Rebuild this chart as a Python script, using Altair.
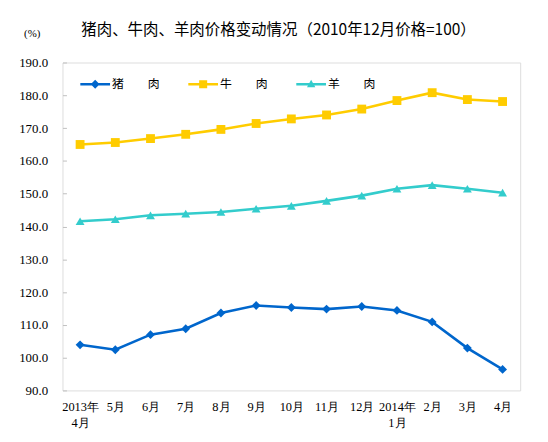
import altair as alt
import pandas as pd

months = ["2013年\n4月", "5月", "6月", "7月", "8月", "9月", "10月", "11月", "12月",
          "2014年\n1月", "2月", "3月", "4月"]
pork = [103.9, 102.4, 107.0, 108.8, 113.6, 115.9, 115.3, 114.8, 115.6, 114.4, 110.9, 102.9, 96.4]
beef = [165.0, 165.6, 166.8, 168.1, 169.6, 171.4, 172.8, 174.0, 175.8, 178.4, 180.8, 178.7, 178.1]
mutton = [141.6, 142.2, 143.4, 143.9, 144.4, 145.4, 146.3, 147.8, 149.4, 151.5, 152.6, 151.5, 150.3]
series = ["猪　　肉", "牛　　肉", "羊　　肉"]
colors = ["#0066CC", "#FFCC00", "#33CCCC"]
shapes = ["diamond", "square", "triangle-up"]
y_ticks = [90, 100, 110, 120, 130, 140, 150, 160, 170, 180, 190]
title_text = "猪肉、牛肉、羊肉价格变动情况（2010年12月价格=100）"

rows = []
for name, vals in zip(series, [pork, beef, mutton]):
    for m, v in zip(months, vals):
        rows.append({"month": m, "series": name, "value": v})
df = pd.DataFrame(rows)

W, H = 462, 331
serif = "Liberation Serif"
cjk = "Noto Sans CJK SC"

x_enc = alt.X("month:N", sort=months, title=None,
              scale=alt.Scale(type="point", padding=0.5),
              axis=alt.Axis(labelAngle=0, ticks=False, tickSize=0, domain=False,
                            labelExpr="split(datum.label, '\\n')",
                            labelFont=serif, labelFontSize=12.5, labelColor="#000000",
                            labelPadding=10, labelLineHeight=16))
y_scale = alt.Scale(domain=[90, 190], nice=False, zero=False)
color_scale = alt.Scale(domain=series, range=colors)

axis_layer = alt.Chart(df).mark_point(opacity=0).encode(
    x=x_enc,
    y=alt.Y("value:Q", scale=y_scale, title="(%)",
            axis=alt.Axis(values=y_ticks, format=".1f", grid=False, domain=False,
                          ticks=False, tickSize=0, labelPadding=15,
                          labelFont=serif, labelFontSize=13, labelColor="#000000",
                          titleAngle=0, titleX=-31, titleY=-29, titleAlign="center",
                          titleBaseline="middle", titleFont=serif, titleFontSize=11,
                          titleFontWeight="normal", titleColor="#000000")),
)

tick_layer = alt.Chart(df).mark_point(opacity=0).encode(
    x=x_enc,
    y=alt.Y("value:Q", scale=y_scale,
            axis=alt.Axis(orient="right", offset=-W, values=y_ticks, labels=False,
                          domain=False, grid=False, ticks=True, tickSize=4,
                          tickColor="#BFBFBF", tickWidth=1, title=None)),
)

series_layers = []
for name, col, shp in zip(series, colors, shapes):
    base = alt.Chart(df).transform_filter(alt.datum.series == name)
    series_layers.append(
        base.mark_line(strokeWidth=2.6, color=col)
        .encode(x=x_enc, y=alt.Y("value:Q", scale=y_scale, axis=None))
    )
    series_layers.append(
        base.mark_point(filled=True, opacity=1, size=80, shape=shp, color=col)
        .encode(x=x_enc, y=alt.Y("value:Q", scale=y_scale, axis=None))
    )

legend_paths = [
    "M-1,-0.083H1V0.083H-1Z M-0.3,0L0,-0.3L0.3,0L0,0.3Z",
    "M-1,-0.083H1V0.083H-1Z M-0.27,-0.27H0.27V0.27H-0.27Z",
    "M-1,-0.083H1V0.083H-1Z M0,-0.3L0.28,0.2L-0.28,0.2Z",
]
leg = dict(title=None, orient="none", direction="horizontal", legendX=18, legendY=7,
           symbolSize=900, symbolOpacity=1, symbolStrokeWidth=0, labelOffset=2,
           columnPadding=28, labelFont=cjk, labelFontSize=12, labelColor="#000000",
           padding=0)
legend_layer = alt.Chart(df).mark_point(filled=True, opacity=0, size=1).encode(
    x=x_enc,
    y=alt.Y("value:Q", scale=y_scale, axis=None),
    color=alt.Color("series:N", scale=color_scale, legend=alt.Legend(**leg)),
    shape=alt.Shape("series:N", scale=alt.Scale(domain=series, range=legend_paths),
                    legend=alt.Legend(**leg)),
)

chart = alt.layer(axis_layer, tick_layer, *series_layers, legend_layer).resolve_axis(
    y="independent"
).properties(
    width=W, height=H,
    autosize="none",
    padding={"left": 55, "top": 53, "right": 20, "bottom": 45},
    title=alt.TitleParams(title_text, anchor="start", frame="group", dx=19, dy=15,
                          font=cjk, fontSize=15.6, fontWeight="normal", color="#000000"),
).configure_view(stroke="#BFBFBF", strokeWidth=1.2).configure(background="#FFFFFF")

chart.save("out.html", embed_options={"renderer": "svg", "actions": False})
